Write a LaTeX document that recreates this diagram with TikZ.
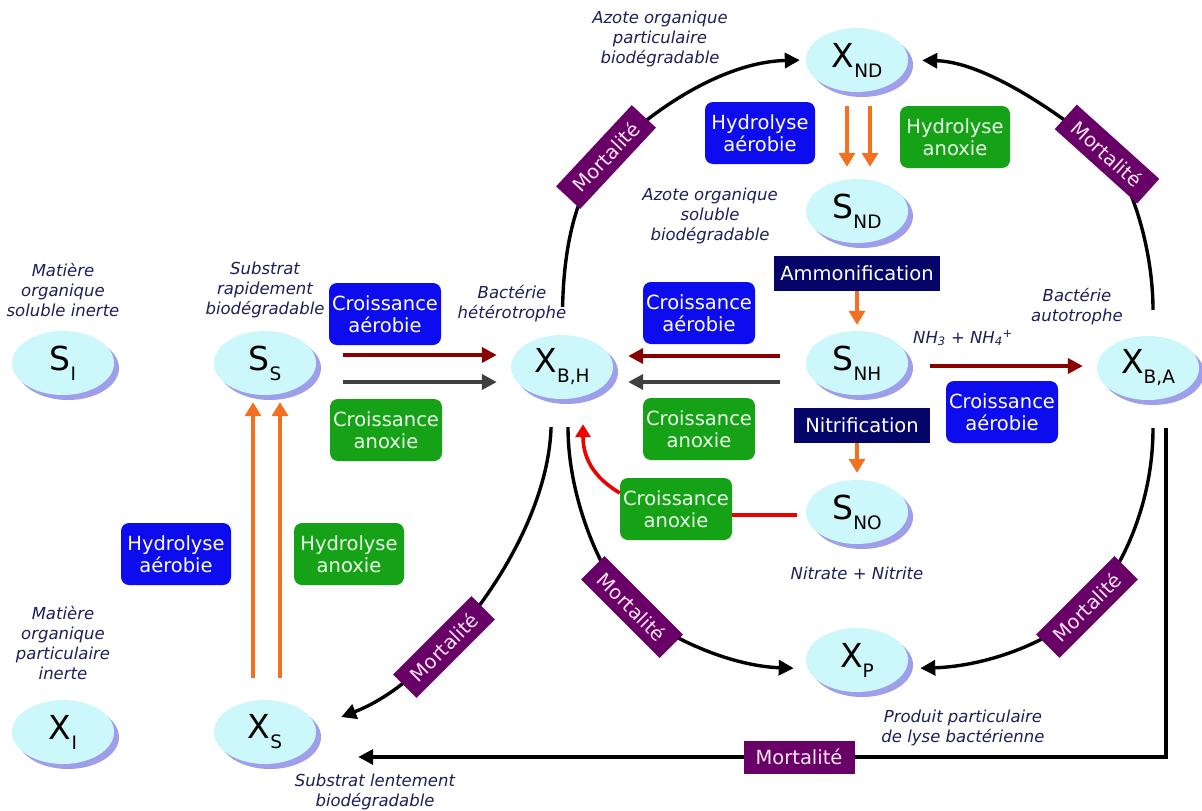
\documentclass[tikz,border=0pt]{standalone}
\usepackage{fontspec}
\setmainfont{DejaVu Sans}
\usetikzlibrary{shapes.geometric,arrows.meta,shadows,calc}

\definecolor{ellfill}{RGB}{205,248,251}
\definecolor{ellshadow}{RGB}{158,158,235}
\definecolor{boxblue}{RGB}{12,12,238}
\definecolor{boxgreen}{RGB}{22,162,22}
\definecolor{boxnavy}{RGB}{5,5,105}
\definecolor{boxpurple}{RGB}{104,0,104}
\definecolor{lblcol}{RGB}{30,30,90}
\definecolor{orangecol}{RGB}{242,112,30}
\definecolor{marooncol}{RGB}{136,0,0}
\definecolor{graycol}{RGB}{64,64,64}
\definecolor{redcol}{RGB}{236,0,0}

\newcommand\varlbl[2]{{\fontsize{33}{33}\selectfont #1}\raisebox{-10pt}{\fontsize{18.5}{18.5}\selectfont #2}}

\begin{document}
\begin{tikzpicture}[x=1pt,y=-1pt,
  var/.style={ellipse, fill=ellfill, minimum width=102pt, minimum height=64pt, inner sep=0pt,
    drop shadow={shadow xshift=5pt, shadow yshift=-5pt, fill=ellshadow, opacity=1}},
  procbox/.style={rounded corners=8pt, minimum width=112pt, minimum height=62pt, align=center,
    text=white, font=\fontsize{19.5}{22}\selectfont, inner sep=2pt},
  bluebox/.style={procbox, fill=boxblue},
  greenbox/.style={procbox, fill=boxgreen, text=white!92!green},
  navybox/.style={fill=boxnavy, text=white, font=\fontsize{19.5}{22}\selectfont, minimum height=35pt, inner sep=0pt},
  mortbox/.style={fill=boxpurple, text=white!90!magenta, font=\fontsize{19.5}{22}\selectfont,
    minimum width=111pt, minimum height=33pt, inner sep=0pt},
  lab/.style={align=center, text=lblcol, font=\fontsize{16.5}{20}\selectfont\itshape},
  mortarr/.style={line width=3.4pt, black, -{Triangle[length=15pt,width=15pt]}},
  orangearr/.style={line width=4.3pt, orangecol, -{Triangle[length=14pt,width=16pt]}},
  maroonarr/.style={line width=4pt, marooncol, -{Triangle[length=15pt,width=15pt]}},
  grayarr/.style={line width=4pt, graycol, -{Triangle[length=15pt,width=15pt]}},
  redline/.style={line width=3.6pt, redcol},
  redarr/.style={line width=3.6pt, redcol, -{Triangle[length=13pt,width=15pt]}}
]
\useasboundingbox (0,0) rectangle (1202,811);
\fill[white] (0,0) rectangle (1202,811);

% state variables
\node[var] (si) at (63,363) {\varlbl{S}{I}};
\node[var] (ss) at (265,363) {\varlbl{S}{S}};
\node[var] (xi) at (63,732) {\varlbl{X}{I}};
\node[var] (xs) at (265,732) {\varlbl{X}{S}};
\node[var] (xbh) at (562,367) {\varlbl{X}{B,H}};
\node[var] (xnd) at (857,60) {\varlbl{X}{ND}};
\node[var] (snd) at (857,211) {\varlbl{S}{ND}};
\node[var] (snh) at (857,363) {\varlbl{S}{NH}};
\node[var] (sno) at (857,512) {\varlbl{S}{NO}};
\node[var] (xp) at (857,660) {\varlbl{X}{P}};
\node[var] (xba) at (1148,368) {\varlbl{X}{B,A}};

% process boxes
\node[bluebox] (ca1) at (385,314) {Croissance\\aérobie};
\node[greenbox] (cx1) at (386,430) {Croissance\\anoxie};
\node[bluebox] (ca2) at (699,313) {Croissance\\aérobie};
\node[greenbox] (cx2) at (699,429) {Croissance\\anoxie};
\node[greenbox] (cx3) at (676,509) {Croissance\\anoxie};
\node[bluebox] (ca3) at (1002,412) {Croissance\\aérobie};
\node[bluebox, minimum width=110pt] (ha1) at (760,133) {Hydrolyse\\aérobie};
\node[greenbox, minimum width=110pt] (hx1) at (955,137) {Hydrolyse\\anoxie};
\node[bluebox, minimum width=110pt] (ha2) at (176,554) {Hydrolyse\\aérobie};
\node[greenbox, minimum width=110pt] (hx2) at (349,554) {Hydrolyse\\anoxie};
\node[navybox, minimum width=166pt] (amm) at (857,273) {Ammonification};
\node[navybox, minimum width=136pt] (nit) at (862,425) {Nitrification};

% labels
\node[lab] (lsi) at (63,290) {Matière\\organique\\soluble inerte};
\node[lab] (lss) at (265,290) {Substrat\\rapidement\\biodégradable};
\node[lab] (lxbh) at (512,304) {Bactérie\\hétérotrophe};
\node[lab] (lxnd) at (660,39) {Azote organique\\particulaire\\biodégradable};
\node[lab] (lsnd) at (710,216) {Azote organique\\soluble\\biodégradable};
\node[lab] (lxba) at (1077,307) {Bactérie\\autotrophe};
\node[lab] (lnh) at (963,338) {NH\textsubscript{3} + NH\textsubscript{4}\textsuperscript{+}};
\node[lab] (lsno) at (857,573) {Nitrate + Nitrite};
\node[lab] (lxp) at (963,728) {Produit particulaire\\de lyse bactérienne};
\node[lab] (lxi) at (63,643) {Matière\\organique\\particulaire\\inerte};
\node[lab] (lxs) at (375,792) {Substrat lentement\\biodégradable};

% mortality box positions
\coordinate (m1) at (606,157);
\coordinate (m2) at (1107,154);
\coordinate (m3) at (444,647);
\coordinate (m4) at (632,607);
\coordinate (m5) at (1087,607);
\coordinate (m6) at (799,757);
\coordinate (xsin) at ($(xs.east)+(25,-15)$);
\coordinate (xsb) at ($(m6 -| xs.east)+(42,0)$);

% mortality connectors
\draw[mortarr, shorten <=28pt, shorten >=6pt] (xbh.north) .. controls (564,240) and (578,188) .. (m1)
  .. controls (645,115) and (720,62) .. (xnd.west);
\draw[mortarr, shorten <=26pt, shorten >=14pt] ($(xba.north)+(5,0)$) .. controls (1153,250) and (1132,180) .. (m2)
  .. controls (1075,125) and (990,62) .. (xnd.east);
\draw[mortarr, shorten <=28pt] ($(xbh.south)+(-10,0)$) .. controls (548,520) and (478,614) .. (m3)
  .. controls (412,678) and (385,700) .. (xsin);
\draw[mortarr, shorten <=28pt, shorten >=14pt] ($(xbh.south)+(6,0)$) .. controls (568,500) and (602,577) .. (m4)
  .. controls (665,637) and (730,666) .. (xp.190);
\draw[mortarr, shorten <=28pt, shorten >=14pt] ($(xba.south)+(5,0)$) .. controls (1153,510) and (1117,577) .. (m5)
  .. controls (1055,640) and (990,666) .. (xp.-10);
\draw[mortarr, shorten <=28pt] ($(xba.south)+(18,0)$) |- (m6) -- (xsb);

% orange arrows
\draw[orangearr] ($(xnd.south)+(-10,14)$) -- ($(snd.north)+(-10,-12)$);
\draw[orangearr] ($(xnd.south)+(13,14)$) -- ($(snd.north)+(13,-12)$);
\draw[orangearr, shorten >=6pt] (amm.south) -- (snh.north);
\draw[orangearr, shorten >=7pt] (nit.south -| sno.north) -- (sno.north);
\draw[orangearr] ($(xs.north)+(-12,-22)$) -- ($(ss.south)+(-12,7)$);
\draw[orangearr] ($(xs.north)+(15,-22)$) -- ($(ss.south)+(15,7)$);

% growth arrows
\draw[maroonarr] ($(ss.east)+(27,-8)$) -- ($(xbh.west)+(-14,-12)$);
\draw[grayarr] ($(ss.east)+(27,19)$) -- ($(xbh.west)+(-14,15)$);
\draw[maroonarr] ($(snh.west)+(-26,-7)$) -- ($(xbh.east)+(15,-11)$);
\draw[grayarr] ($(snh.west)+(-26,19)$) -- ($(xbh.east)+(15,15)$);
\draw[maroonarr] ($(snh.east)+(22,3)$) -- ($(xba.west)+(-14,-2)$);

% anoxic growth on nitrate
\coordinate (snoL) at ($(sno.west)+(-9,3)$);
\coordinate (xbhR) at ($(xbh.south)+(21,25)$);
\draw[redline] (snoL) -- (snoL -| cx3.east);
\draw[redarr] ($(cx3.west)+(0,-16)$) .. controls (598,480) and (583,462) .. (xbhR);

% mortality boxes
\node[mortbox, rotate=47] (mb1) at (m1) {Mortalité};
\node[mortbox, rotate=-42] (mb2) at (m2) {Mortalité};
\node[mortbox, rotate=45] (mb3) at (m3) {Mortalité};
\node[mortbox, rotate=-45] (mb4) at (m4) {Mortalité};
\node[mortbox, rotate=45] (mb5) at (m5) {Mortalité};
\node[mortbox] (mb6) at (m6) {Mortalité};
\end{tikzpicture}
\end{document}
